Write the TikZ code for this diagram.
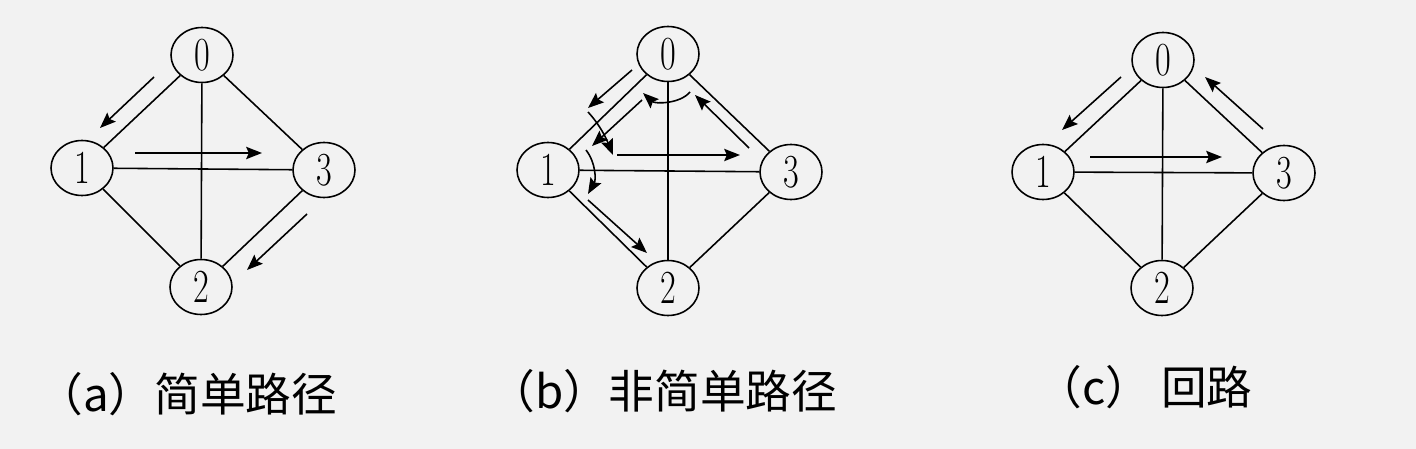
\documentclass[tikz,border=0pt]{standalone}
\usepackage{fontspec}
\newfontfamily\cjk{Noto Sans CJK SC}
\usetikzlibrary{arrows.meta,shapes.geometric}
\definecolor{bggray}{RGB}{242,242,242}
\newcommand{\vlabel}[1]{\scalebox{0.72}[1]{#1}}

\begin{document}
\begin{tikzpicture}[
  x=0.02cm, y=-0.02cm,
  vertex/.style={draw, ellipse, line width=0.9pt, minimum width=1.24cm, minimum height=1.1cm, inner sep=0pt, font=\fontsize{27}{27}\selectfont},
  edge/.style={line width=0.9pt},
  walk/.style={-{Stealth[length=9pt,width=7pt,inset=1.5pt]}, line width=0.9pt},
  caption/.style={font=\cjk\fontsize{26}{30}\selectfont, inner sep=0pt, anchor=base west},
  ]

\fill[bggray] (0,0) rectangle (1416,449);

% (a) Nodes
\node[vertex] (a0) at (202,55) {\vlabel{0}};
\node[vertex] (a1) at (82,168) {\vlabel{1}};
\node[vertex] (a3) at (324,170) {\vlabel{3}};
\node[vertex] (a2) at (201,287) {\vlabel{2}};

% (b) Nodes
\node[vertex] (b0) at (668,54) {\vlabel{0}};
\node[vertex] (b1) at (548,170) {\vlabel{1}};
\node[vertex] (b3) at (791,172) {\vlabel{3}};
\node[vertex] (b2) at (668,288) {\vlabel{2}};

% (c) Nodes
\node[vertex] (c0) at (1163,60) {\vlabel{0}};
\node[vertex] (c1) at (1043,172) {\vlabel{1}};
\node[vertex] (c3) at (1284,173) {\vlabel{3}};
\node[vertex] (c2) at (1162,288) {\vlabel{2}};

% Edges
\foreach \g in {a,b,c} {
  \draw[edge] (\g0) -- (\g1);
  \draw[edge] (\g0) -- (\g3);
  \draw[edge] (\g0) -- (\g2);
  \draw[edge] (\g1) -- (\g3);
  \draw[edge] (\g1) -- (\g2);
  \draw[edge] (\g3) -- (\g2);
}

% (a) Path
\coordinate (pa1) at (154,77);
\coordinate (pa2) at (100,128);
\coordinate (pa3) at (135,153);
\coordinate (pa4) at (262,153);
\coordinate (pa5) at (307,214);
\coordinate (pa6) at (247,270);
\draw[walk] (pa1) -- (pa2);
\draw[walk] (pa3) -- (pa4);
\draw[walk] (pa5) -- (pa6);

% (b) Path
\coordinate (pb1) at (632,70);
\coordinate (pb2) at (588,108);
\coordinate (pb3) at (588,112);
\coordinate (pb4) at (613,155);
\coordinate (pb5) at (617,155);
\coordinate (pb6) at (740,155);
\coordinate (pb7) at (749,148);
\coordinate (pb8) at (695,95);
\coordinate (pb9) at (690,92);
\coordinate (pb10) at (643,93);
\coordinate (pb11) at (642,100);
\coordinate (pb12) at (592,146);
\coordinate (pb13) at (586,150);
\coordinate (pb14) at (588,194);
\coordinate (pb15) at (588,200);
\coordinate (pb16) at (647,253);
\draw[walk] (pb1) -- (pb2);
\draw[walk] (pb3) .. controls (600,125) and (606,138) .. (pb4);
\draw[walk] (pb5) -- (pb6);
\draw[walk] (pb7) -- (pb8);
\draw[walk] (pb9) .. controls (680,104) and (655,104) .. (pb10);
\draw[walk] (pb11) -- (pb12);
\draw[walk] (pb13) .. controls (596,163) and (596,180) .. (pb14);
\draw[walk] (pb15) -- (pb16);

% (c) Path
\coordinate (pc1) at (1121,77);
\coordinate (pc2) at (1062,130);
\coordinate (pc3) at (1090,157);
\coordinate (pc4) at (1222,157);
\coordinate (pc5) at (1263,129);
\coordinate (pc6) at (1205,77);
\draw[walk] (pc1) -- (pc2);
\draw[walk] (pc3) -- (pc4);
\draw[walk] (pc5) -- (pc6);

% Captions
\node[caption] (capa) at (37,411) {（a）简单路径};
\node[caption] (capb) at (489,408) {（b）非简单路径};
\node[caption] (capc) at (1036,404) {（c）\ 回路};

\end{tikzpicture}
\end{document}
